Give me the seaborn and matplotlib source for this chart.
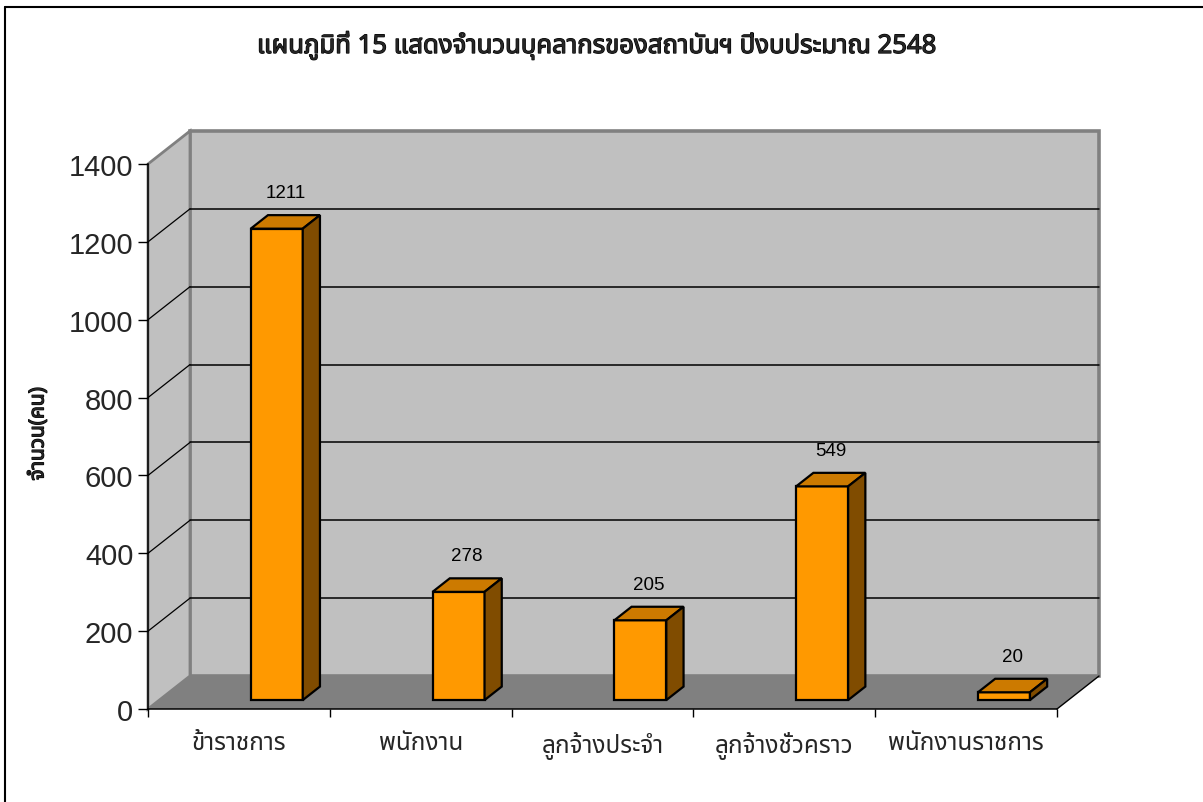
import matplotlib
matplotlib.use("Agg")
import matplotlib.pyplot as plt
import seaborn as sns
import pandas as pd
from matplotlib import font_manager as fm
from matplotlib.ft2font import FT2Font
from matplotlib.patches import Polygon
from matplotlib.lines import Line2D
import matplotlib.patheffects as pe

# ---------------- data ----------------
categories = ["ข้าราชการ", "พนักงาน", "ลูกจ้างประจำ", "ลูกจ้างชั่วคราว", "พนักงานราชการ"]
values = [1211, 278, 205, 549, 20]
y_ticks = [0, 200, 400, 600, 800, 1000, 1200, 1400]
title = "แผนภูมิที่ 15 แสดงจำนวนบุคลากรของสถาบันฯ ปีงบประมาณ 2548"
y_label = "จำนวน(คน)"


# ---------------- fonts ----------------
def find_thai_font():
    prefs = ["Tahoma", "Microsoft Sans Serif", "Noto Sans Thai", "Noto Sans Thai UI",
             "Loma", "Garuda", "Sarabun", "Waree", "Umpush", "Kinnari", "Norasi",
             "Noto Sans Thai Looped", "Noto Serif Thai", "Tlwg Typo"]
    found = {}
    for f in fm.fontManager.ttflist:
        try:
            cm = FT2Font(f.fname).get_charmap()
        except Exception:
            continue
        if 0x0E01 in cm and 0x0E33 in cm:
            found.setdefault(f.name, []).append(f)
    name = None
    for p in prefs:
        if p in found:
            name = p
            break
    if name is None and found:
        name = next(iter(found))
    has_bold = False
    if name:
        for f in found[name]:
            w = f.weight
            if isinstance(w, str):
                has_bold = has_bold or ("bold" in w.lower())
            else:
                has_bold = has_bold or w >= 600
    return name, has_bold


sns.set_style("white")
thai, thai_bold = find_thai_font()
thai_family = ([thai] if thai else []) + ["Liberation Sans", "DejaVu Sans"]
plt.rcParams["font.family"] = ["Liberation Sans", "DejaVu Sans"]
bold_fx = [] if thai_bold else [pe.withStroke(linewidth=0.9, foreground="black")]

W, H = 1203, 803
fig = plt.figure(figsize=(W / 100, H / 100), dpi=100)
fig.patch.set_facecolor("white")

# front plane of the 3D box in pixels
X0, X1 = 148, 1057
YB, YT = 710, 165
ax = fig.add_axes([X0 / W, (H - YB) / H, (X1 - X0) / W, (YB - YT) / H])
ax.set_facecolor("none")

YMAX = 1400
n = len(categories)
px_per_x = (X1 - X0) / n
px_per_y = (YB - YT) / YMAX

# depth offset of the back wall (pixels -> data units)
DEPTH_DX, DEPTH_DY = 42, 33
dxd = DEPTH_DX / px_per_x
dyd = DEPTH_DY / px_per_y

# bar geometry (style)
BAR_W_PX = 52
BAR_FRONT_D, BAR_BACK_D = 0.27, 0.68
BAR_XSHIFT_PX = 26.5
FRONT, TOP, SIDE = "#FF9900", "#CC7A00", "#804C00"

df = pd.DataFrame({"cat": categories, "val": values})
sns.barplot(data=df, x="cat", y="val", ax=ax, color=FRONT, saturation=1,
            width=BAR_W_PX / px_per_x, edgecolor="black", linewidth=1.6, zorder=5)
bars = list(ax.patches)

fx = BAR_FRONT_D * dxd + BAR_XSHIFT_PX / px_per_x
fy = BAR_FRONT_D * dyd
bdx = (BAR_BACK_D - BAR_FRONT_D) * dxd
bdy = (BAR_BACK_D - BAR_FRONT_D) * dyd

for p, v in zip(bars, values):
    p.set_x(p.get_x() + fx)
    p.set_y(p.get_y() + fy)
    p.set_clip_on(False)
    x0 = p.get_x()
    x1 = x0 + p.get_width()
    b = p.get_y()
    t = b + p.get_height()
    ax.add_patch(Polygon([(x0, t), (x1, t), (x1 + bdx, t + bdy), (x0 + bdx, t + bdy)],
                         closed=True, facecolor=TOP, edgecolor="black", lw=1.6,
                         zorder=5, clip_on=False, joinstyle="miter"))
    ax.add_patch(Polygon([(x1, b), (x1, t), (x1 + bdx, t + bdy), (x1 + bdx, b + bdy)],
                         closed=True, facecolor=SIDE, edgecolor="black", lw=1.6,
                         zorder=5, clip_on=False, joinstyle="miter"))
    ax.annotate(f"{v}", xy=((x0 + x1) / 2 + bdx / 2, t + bdy), xytext=(0, 10),
                textcoords="offset points", ha="center", va="bottom",
                fontsize=13.5, color="black", zorder=6, annotation_clip=False)

L, R = -0.5, n - 0.5
WALL = "#C0C0C0"
EDGE = "#808080"
FLOOR = "#808080"

# back wall
ax.add_patch(Polygon([(L + dxd, dyd), (R + dxd, dyd), (R + dxd, YMAX + dyd), (L + dxd, YMAX + dyd)],
                     closed=True, facecolor=WALL, edgecolor=EDGE, lw=2.6, zorder=0, clip_on=False))
# side wall
ax.add_patch(Polygon([(L, 0), (L, YMAX), (L + dxd, YMAX + dyd), (L + dxd, dyd)],
                     closed=True, facecolor=WALL, edgecolor=EDGE, lw=2.0, zorder=0.5, clip_on=False))
# gridlines
for v in y_ticks[1:-1]:
    ax.plot([L + dxd, R + dxd], [v + dyd, v + dyd], color="black", lw=1.1, zorder=1, clip_on=False)
    ax.plot([L, L + dxd], [v, v + dyd], color="black", lw=0.9, zorder=1, clip_on=False)
# floor
ax.add_patch(Polygon([(L, 0), (R, 0), (R + dxd, dyd), (L + dxd, dyd)],
                     closed=True, facecolor=FLOOR, edgecolor="none", zorder=2, clip_on=False))
ax.plot([R, R + dxd], [0, dyd], color="black", lw=1.0, zorder=2, clip_on=False)

# axes styling
ax.set_xlim(L, R)
ax.set_ylim(0, YMAX)
for s in ["top", "right"]:
    ax.spines[s].set_visible(False)
for s in ["left", "bottom"]:
    ax.spines[s].set_color("black")
    ax.spines[s].set_linewidth(1.1)
    ax.spines[s].set_zorder(3)
ax.set_yticks(y_ticks)
ax.set_yticklabels([str(t) for t in y_ticks], fontsize=21)
ax.tick_params(axis="y", direction="out", length=7, width=1, color="black", pad=3.5, left=True)
ax.set_xticks(range(n))
ax.set_xticklabels(categories, family=thai_family, fontsize=17.5)
ax.set_xticks([i - 0.5 for i in range(n + 1)], minor=True)
ax.tick_params(axis="x", which="major", length=0, pad=16)
ax.tick_params(axis="x", which="minor", direction="out", length=6, width=1, color="black", bottom=True)
ax.set_xlabel("")
ax.set_ylabel("")

fig.text(38 / W, 1 - 435 / H, y_label, rotation=90, ha="center", va="center",
         fontsize=15, fontweight="bold", family=thai_family, path_effects=bold_fx)
fig.text(597 / W, 1 - 47 / H, title, ha="center", va="center",
         fontsize=18.5, fontweight="bold", family=thai_family, path_effects=bold_fx)

# outer chart border (top and left visible)
fig.add_artist(Line2D([5 / W, 5 / W], [0, 1 - 8 / H], color="black", lw=1.5))
fig.add_artist(Line2D([5 / W, 1], [1 - 8 / H, 1 - 8 / H], color="black", lw=1.5))

fig.savefig("out.png", dpi=100, facecolor="white")
